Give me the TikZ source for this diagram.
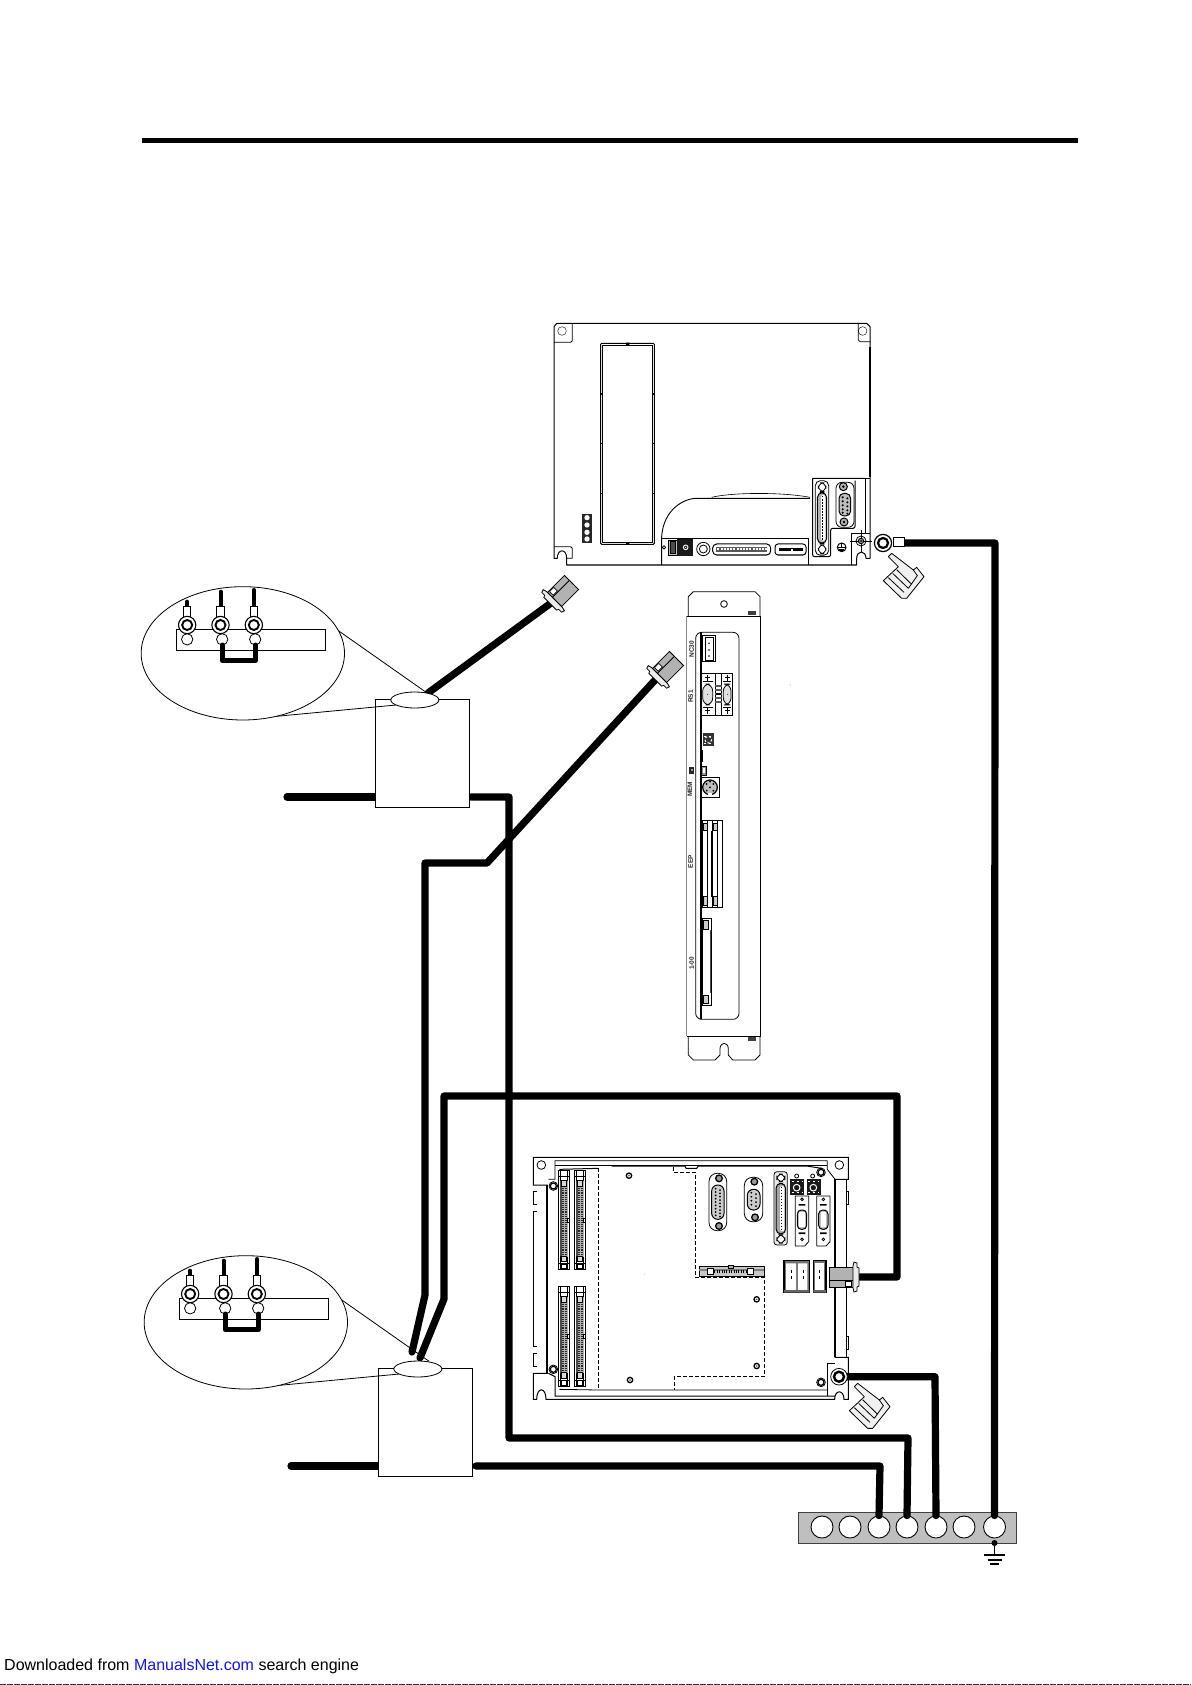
\documentclass[tikz,border=0pt]{standalone}
\usepackage{fontspec}
\setmainfont{Liberation Sans}
\usetikzlibrary{calc}
\definecolor{linkblue}{RGB}{20,20,240}
\tikzset{
  cable/.style={line width=7.2pt,line join=round,line cap=round,black},
  thin line/.style={line width=0.8pt},
  fine/.style={line width=0.6pt},
  pcb/.style={line width=0.9pt,dash pattern=on 3.5pt off 2.5pt},
  terminal/.style={circle,draw,line width=0.9pt,fill=white,minimum size=22pt,inner sep=0pt},
  tinylabel/.style={inner sep=0pt,font=\fontsize{6.5}{6.5}\selectfont\bfseries,rotate=90,text=black!85},
  zoomA/.style={shift={(540,310)},scale=0.33333},
  zoomB/.style={shift={(660,580)},scale=0.33333},
  zoomC/.style={shift={(520,1140)},scale=0.33333},
}
% pin slot: top-left x,y ; height (zoom units)
\newcommand{\mySlot}[3]{%
  \begin{scope}[shift={(#1,#2)}]
    \draw[thin line,fill=white] (0,0) rectangle (33,#3);
    \draw[fine] (7,0) -- (7,#3) (27,0) -- (27,#3);
    \fill[black!70] (5,30) rectangle (10,{#3-40});
    \fill[black!30] (10,32) rectangle (28,{#3-38});
    \draw[line width=2pt,black!85,dash pattern=on 1pt off 0.9pt] (15,34) -- (15,{#3-38});
    \draw[line width=2pt,black!85,dash pattern=on 1pt off 0.9pt] (23,34) -- (23,{#3-38});
    \draw[fine,fill=black!15] (9,30) rectangle (25,46);
    \draw[fine,fill=black!15] (9,{#3-40}) rectangle (25,{#3-24});
    \draw[fine,fill=white] (9,{#3-16}) rectangle (25,{#3-2});
    \draw[fine] (0,18) -- (33,18) (0,{#3-18}) -- (33,{#3-18});
    \draw[fine,fill=white] (28,{#3/2-6}) rectangle (33,{#3/2+6});
  \end{scope}}
% grey plug with its flange
\newcommand{\myPlug}[2]{%
  \begin{scope}[shift={(#1)},rotate=#2]
    \draw[thin line,fill=black!30] (-12,-10) rectangle (12,10);
    \draw[thin line] (-12,-3) -- (12,-3);
    \draw[fine,fill=white] (-10,-9) rectangle (-4,-4);
    \draw[thin line,fill=black!8] (-12,-11) -- (-13,-15) -- (-16,-14) -- (-16,-10) -- (-18,-9) -- (-18,9) -- (-16,10) -- (-16,14) -- (-13,15) -- (-12,11) -- cycle;
  \end{scope}}
% hand pointing at the ring terminal
\newcommand{\myHand}[1]{%
  \begin{scope}[shift={(#1)},scale=0.33333]
    \draw[thin line,fill=black!6,line join=round] (-5,5) -- (5,-5) -- (70,45) -- (80,37) -- (102,65) -- (50,130) -- (35,130) -- (-20,77) -- (25,35) -- cycle;
    \draw[thin line] (-5,68) -- (42,112) (8,55) -- (55,100) (20,44) -- (65,88) (70,45) -- (82,62) -- (55,100);
  \end{scope}}
% ring terminal with wire on a strip
\newcommand{\myRing}[2]{%
  \draw[line width=4pt,black,line cap=round] (#1,#2) -- (#1,115);
  \draw[line width=0.9pt,fill=white] ({#1-11},110) rectangle ({#1+11},142);
  \draw[line width=1.1pt,fill=white] (#1,165) circle (26);
  \draw[line width=1.9pt,fill=white] (#1,165) circle (15);
}
\newcommand{\myInset}[1]{%
  \begin{scope}[shift={(#1)},scale=0.33333]
    \draw[line width=0.9pt,fill=white] (738,388) rectangle (1020,712);
    \draw[line width=0.8pt] (628,183) -- (890,367) (430,440) -- (800,405);
    \draw[line width=0.8pt,fill=white] (340,250) ellipse (305 and 200);
    \draw[line width=0.8pt,fill=white] (856,390) ellipse (72 and 24);
    \draw[line width=0.9pt] (140,178) rectangle (588,242);
    \draw[line width=0.8pt,fill=white] (173,208) circle (17);
    \draw[line width=0.8pt,fill=white] (278,208) circle (17);
    \draw[line width=0.8pt,fill=white] (377,208) circle (17);
    \draw[line width=5pt,black,line join=round,line cap=round] (278,225) -- (278,272) -- (378,272) -- (378,225);
    \myRing{173}{95}
    \myRing{273}{65}
    \myRing{373}{60}
  \end{scope}}
\begin{document}
\begin{tikzpicture}[x=1pt,y=-1pt,line cap=butt]
\useasboundingbox (0,0) rectangle (1191,1685);
\fill[white] (0,0) rectangle (1191,1685);

% top rule
\coordinate (ruleL) at (142,140.5);
\coordinate (ruleR) at (1078,140.5);
\draw[line width=5pt] (ruleL) -- (ruleR);

% ===== upper unit =====
\begin{scope}[zoomA]
  \draw[line width=1pt,line join=round] (42,50) -- (50,40) -- (980,40) -- (990,50) -- (990,745) -- (978,745)
    .. controls (978,720) and (950,720) .. (950,745) -- (950,765) -- (80,765) -- (80,745)
    .. controls (80,715) and (52,715) .. (52,745) -- (42,745) -- cycle;
  \draw[thin line] (42,97) -- (92,97) -- (97,92) -- (97,40);
  \draw[thin line] (955,40) -- (955,90) -- (960,95) -- (990,95);
  \draw (66,63) circle (13) (968,63) circle (13);
  \draw[thin line] (42,710) -- (92,710) -- (97,715) -- (97,745) -- (80,745);
  \draw[line width=1.6pt] (990,110) -- (990,500);
  \draw[thin line] (935,670) -- (990,670) (935,670) -- (935,765);
  % display window
  \draw[line width=1pt,rounded corners=1pt] (182,100) rectangle (343,703);
  \draw[thin line] (188,106) rectangle (337,697);
  \foreach \yy in {252,400,550}{\fill (180,{\yy-2}) rectangle (190,{\yy+2}); \fill (335,{\yy-2}) rectangle (345,{\yy+2});}
  \fill (258,98) rectangle (268,106) (258,697) rectangle (268,705);
  % lamp strip
  \fill[black!85] (127,612) rectangle (155,700);
  \foreach \yy in {623,645,667,687}{\fill[white] (141,\yy) circle (8);}
  % curved cover
  \draw[line width=0.9pt] (365,765) -- (365,680) .. controls (370,600) and (430,565) .. (470,565) -- (810,565);
  \draw[fine] (515,562) .. controls (570,548) and (720,545) .. (810,562);
  \draw[thin line] (365,685) -- (805,685) -- (805,765);
  % lower strip parts
  \draw[thin line,fill=black!25] (385,690) rectangle (412,735);
  \draw[fine,fill=black!70] (392,695) rectangle (405,730);
  \fill[black!90] (412,688) rectangle (460,737);
  \draw[white,line width=0.9pt] (437,712) circle (7);
  \fill[white] (437,712) circle (2);
  \draw[thin line] (372,712) circle (5);
  \draw[thin line] (490,717) circle (20) (490,717) circle (12);
  \draw[line width=1pt,rounded corners=4pt] (518,702) rectangle (692,735);
  \fill[black!65] (528,712) rectangle (682,726);
  \draw[white,line width=2pt,dash pattern=on 2pt off 1.2pt] (532,717) -- (680,717);
  \draw[line width=1pt,rounded corners=3pt] (705,702) rectangle (798,735);
  \fill (716,715) rectangle (790,723);
  \fill[white] (753,716) rectangle (760,722);
  % connector block
  \draw[line width=1pt,rounded corners=2pt] (818,505) -- (975,505) (818,505) -- (818,740) -- (872,740) -- (872,655) -- (945,655) -- (945,512);
  \draw[thin line] (975,505) -- (975,670) (945,505) -- (990,505);
  \draw[thin line,rounded corners=5pt] (826,512) rectangle (866,736);
  \draw[thin line,rounded corners=6pt] (835,518) rectangle (858,545);
  \draw[thin line,rounded corners=6pt] (835,704) rectangle (858,732);
  \draw[line width=1pt,fill=black!30,rounded corners=5pt] (832,548) rectangle (860,700);
  \fill[white,rounded corners=2pt] (843,555) rectangle (856,692);
  \draw[line width=1.6pt,dash pattern=on 1.5pt off 1.5pt] (848,558) -- (848,690);
  \draw[thin line,rounded corners=6pt] (888,517) rectangle (942,652);
  \draw[line width=1pt,fill=black!25,rounded corners=5pt] (897,550) rectangle (932,618);
  \foreach \yy in {562,574,586,598,608}{\fill[black] (908,\yy) circle (3.5); \fill[black] (922,{\yy+3}) circle (3.5);}
  \draw[line width=1pt,fill=black!30] (910,530) circle (12) (912,636) circle (12);
  \fill (910,530) circle (4) (912,636) circle (4);
  % screws
  \draw[line width=1pt] (905,712) circle (13);
  \draw[line width=1pt] (892,712) -- (918,712) (905,700) -- (905,712);
  \fill (897,716) rectangle (913,722);
  \draw[fine] (930,693) -- (995,693) (963,660) -- (963,725);
  \draw[thin line] (963,693) circle (15);
  \draw[line width=1pt,fill=black!40] (963,693) circle (8);
  \fill (963,693) circle (3);
\end{scope}

% ===== middle unit =====
\begin{scope}[zoomB]
  \draw[thin line,line join=round] (85,108) -- (85,50) -- (100,35) -- (285,35) -- (300,50) -- (300,108);
  \draw[thin line] (192,72) circle (10);
  \fill[black!75] (265,94) rectangle (287,106);
  \draw[line width=1.6pt,black!45] (80,108) -- (80,1368);
  \draw[thin line] (80,108) -- (300,108) -- (300,1368) -- (80,1368);
  \fill[black!75] (265,1370) rectangle (287,1382);
  \draw[thin line,line join=round] (85,1368) -- (85,1425) -- (100,1440) -- (165,1440) -- (180,1425) -- (180,1405) .. controls (182,1385) and (203,1385) .. (205,1405) -- (205,1425) -- (218,1440) -- (285,1440) -- (300,1425) -- (300,1368);
  \draw[thin line,rounded corners=6pt] (107,157) rectangle (237,1318);
  \draw[thin line] (120,157) -- (120,1318) (124,157) -- (124,1318);
  % CN
  \draw[line width=1pt] (128,165) rectangle (165,245);
  \draw[thin line] (135,172) rectangle (160,240);
  \foreach \yy in {190,210,228}{\fill (147,\yy) circle (2.5);}
  % dual D
  \draw[line width=1pt] (125,280) rectangle (218,405);
  \draw[thin line] (165,280) -- (165,405) (185,280) -- (185,405);
  \draw[thin line,fill=black!12,rounded corners=7pt] (128,312) rectangle (158,375);
  \draw[thin line,fill=black!12,rounded corners=7pt] (190,312) rectangle (213,375);
  \foreach \xx/\yy in {143/293,143/392,203/293,203/392}{\draw[line width=1.2pt] ({\xx-8},\yy) -- ({\xx+8},\yy) ({\xx},{\yy-9}) -- ({\xx},{\yy+9});}
  \draw[line width=1pt] (128,304) -- (158,304) (190,304) -- (213,304) (128,382) -- (158,382) (190,382) -- (213,382);
  \foreach \yy in {318,330,342,354,366}{\draw[line width=1.4pt,black!65] (165,\yy) -- (185,\yy);}
  \fill (168,338) rectangle (182,345);
  \fill (143,343) circle (1.5) (203,343) circle (1.5);
  % rotary switch
  \fill[black!80] (128,460) rectangle (162,498);
  \draw[white,line width=1pt,dash pattern=on 2pt off 2pt] (145,479) circle (10);
  \draw[white,line width=1pt,dash pattern=on 2pt off 3pt] (132,468) -- (158,468) (132,490) -- (158,490);
  \draw[thin line] (128,510) -- (128,545);
  \draw[thin line,fill=black!45] (125,558) rectangle (138,587);
  \fill[white] (129,564) rectangle (134,580);
  \fill[black!85] (88,562) rectangle (103,582);
  \fill[black!40] (92,566) rectangle (100,574);
  \draw[line width=1pt] (123,592) rectangle (178,652);
  \draw[line width=1.2pt,fill=black!25] (150,622) circle (22);
  \foreach \p in {{140,612},{160,612},{140,632},{160,632},{150,622},{150,605}}{\fill (\p) circle (3);}
  \fill[white] (145,640) rectangle (155,648);
  \draw[thin line] (123,660) -- (123,705);
  % slots
  \foreach \xa in {127,157}{
    \draw[thin line] (\xa,722) rectangle ({\xa+29},982);
    \draw[fine,fill=black!20] ({\xa+2},730) rectangle ({\xa+16},752);
    \draw[fine,fill=black!20] ({\xa+2},950) rectangle ({\xa+16},975);
    \draw[fine] ({\xa+16},722) -- ({\xa+16},982);
  }
  \fill (153,752) rectangle (160,950);
  \draw[thin line] (127,1015) rectangle (155,1275);
  \draw[fine,fill=black!20] (129,1022) rectangle (145,1048);
  \draw[fine,fill=black!20] (129,1245) rectangle (145,1270);
  \draw[line width=1pt,black!70] (150,1050) -- (150,1240);
  \node[tinylabel] (lblA) at (95,208) {NC30};
  \node[tinylabel] (lblB) at (92,350) {RS1};
  \node[tinylabel] (lblC) at (90,628) {MEM};
  \node[tinylabel] (lblD) at (92,845) {EEP};
  \node[tinylabel] (lblE) at (95,1150) {1-00};
\end{scope}
\fill[black!60] (790,685) circle (0.5);

% ===== lower unit =====
\begin{scope}[zoomC]
  \draw[line width=1pt] (40,52) -- (985,52) -- (985,118) -- (945,118) -- (945,652) -- (985,652) -- (985,778) -- (972,778)
    .. controls (972,748) and (944,748) .. (944,778) -- (78,778) .. controls (78,740) and (50,740) .. (50,778) -- (40,778) -- (40,700) -- (82,700) -- (82,135) -- (40,135) -- cycle;
  \draw[line width=2pt] (82,135) -- (82,700);
  \draw[line width=1.6pt] (945,118) -- (945,652);
  \draw[thin line] (978,118) -- (978,652);
  \draw[thin line] (978,155) -- (985,155) -- (985,193) -- (978,193) (978,215) -- (978,590) -- (985,590) -- (985,628) -- (978,628);
  \draw[line width=1.3pt] (40,155) -- (52,155) (40,155) -- (40,193) -- (52,193) (40,215) -- (52,215) (40,215) -- (40,620) -- (52,620) (40,640) -- (52,640) (40,640) -- (40,680) -- (52,680);
  \draw[thin line] (85,118) -- (105,118) -- (105,62) -- (922,62) -- (922,88) -- (945,118);
  \draw[line width=1pt] (105,75) -- (922,75);
  \draw[line width=1pt] (118,88) -- (235,85) (275,78) -- (495,78) (495,78) -- (498,85) -- (530,85) -- (535,78) -- (860,78) -- (905,85);
  \draw[line width=1pt] (85,700) -- (105,710) -- (105,768) -- (945,768);
  \draw[thin line] (118,748) -- (235,750) -- (922,750);
  \draw[thin line] (922,750) -- (922,768);
  \draw[thin line] (64,75) circle (13) (958,75) circle (13);
  \foreach \p in {{100,138},{100,688},{903,97},{903,727}}{\draw[thin line] (\p) circle (13); \draw[line width=1.2pt] (\p) circle (9);}
  \draw[pcb] (235,85) -- (235,750);
  \draw[pcb] (460,82) -- (460,97) -- (527,97) -- (527,412) -- (733,412) -- (733,710) -- (463,710) -- (463,750);
  \foreach \p in {{327,107},{330,720},{710,478},{710,678}}{\draw[line width=1.3pt] (\p) circle (8); \fill[black!60] (\p) circle (3);}
  % pin slots
  \mySlot{115}{92}{296}
  \mySlot{163}{92}{296}
  \mySlot{115}{440}{298}
  \mySlot{163}{440}{298}
  \fill[black!60] (374,402) circle (1.2);
  % D-subs
  \draw[thin line,rounded corners=8pt] (567,100) rectangle (620,272);
  \draw[line width=1pt,fill=black!20,rounded corners=6pt] (575,135) rectangle (612,238);
  \foreach \yy in {146,156,166,176,186,196,206,216,226}{\fill (587,\yy) circle (3); \fill (600,{\yy+4}) circle (3);}
  \draw[line width=1.3pt,fill=black!40] (597,115) circle (10) (597,258) circle (10);
  \draw[thin line,rounded corners=8pt] (673,112) rectangle (728,245);
  \draw[line width=1pt,fill=black!20,rounded corners=6pt] (682,148) rectangle (720,210);
  \foreach \yy in {158,170,182,194}{\fill (694,\yy) circle (3); \fill (708,{\yy+4}) circle (3);}
  \draw[line width=1.3pt,fill=black!40] (703,125) circle (10) (705,232) circle (10);
  % half-pitch connector
  \draw[thin line,fill=black!8,rounded corners=3pt] (762,95) rectangle (802,315);
  \draw[thin line,fill=white,rounded corners=6pt] (770,102) rectangle (795,125);
  \draw[thin line,fill=white,rounded corners=6pt] (770,285) rectangle (795,310);
  \draw[line width=1pt,fill=black!35,rounded corners=5pt] (768,130) rectangle (797,282);
  \fill[white,rounded corners=2pt] (780,138) rectangle (793,274);
  \draw[line width=1.5pt,dash pattern=on 1.5pt off 1.5pt] (785,140) -- (785,272);
  % rotary
  \fill[black!90] (810,118) rectangle (852,165);
  \fill[black!90] (860,118) rectangle (903,165);
  \draw[thin line] (830,108) circle (6) (878,108) circle (6);
  \draw[white,line width=1pt] (830,143) circle (10) (880,143) circle (10);
  \draw[white,line width=1pt,dash pattern=on 2pt off 3pt] (815,125) -- (848,125) (865,125) -- (898,125) (815,158) -- (848,158) (865,158) -- (898,158);
  % mini connectors
  \foreach \xa in {826,890}{
    \draw[thin line,line join=round] (\xa,168) -- ({\xa+40},168) -- ({\xa+40},305) -- ({\xa+28},318) -- (\xa,318) -- cycle;
    \draw[line width=1pt,fill=black!25,rounded corners=4pt] ({\xa+6},210) rectangle ({\xa+34},268);
    \fill[white] ({\xa+12},216) rectangle ({\xa+28},262);
    \draw[thin line] ({\xa+20},178) circle (4) ({\xa+20},298) circle (4);
    \fill ({\xa+10},192) rectangle ({\xa+30},197) ({\xa+10},277) rectangle ({\xa+30},282);
  }
  % flat connector
  \draw[thin line,fill=black!22] (537,378) rectangle (733,410);
  \fill[black!50] (537,386) rectangle (733,392);
  \draw[fine,fill=white] (563,384) rectangle (580,402);
  \draw[fine,fill=white] (683,384) rectangle (700,402);
  \draw[fine,fill=black!30] (625,376) rectangle (640,386);
  \draw[line width=2.4pt,dash pattern=on 1pt off 1.4pt] (583,394) -- (680,394);
  % boxes
  \draw[line width=1.6pt,fill=black!55] (792,362) rectangle (868,458);
  \fill[white] (798,370) rectangle (828,450) (834,370) rectangle (862,450);
  \draw[line width=1.6pt,fill=black!55] (880,362) rectangle (918,458);
  \fill[white] (886,370) rectangle (912,450);
  \foreach \xx in {815,850,898}{\draw[line width=1.4pt,dash pattern=on 3pt off 3pt] (\xx,390) -- (\xx,425);}
  \fill[black!60] (792,450) rectangle (868,458) (880,450) rectangle (918,458);
  % corner of the ground lug
  \draw[thin line] (921,670) -- (945,670) (921,670) -- (921,750);
\end{scope}

% ===== terminal bar =====
\draw[line width=1pt,black!75,fill=black!25] (798,1512) rectangle (1016,1543);
\node[terminal] (t1) at (822,1527) {};
\node[terminal] (t2) at (850,1527) {};
\node[terminal] (t3) at (879,1527) {};
\node[terminal] (t4) at (907,1527) {};
\node[terminal] (t5) at (936,1527) {};
\node[terminal] (t6) at (964,1527) {};
\node[terminal] (t7) at (994.5,1527) {};
\coordinate (gnd) at (994.5,1543);
\coordinate (gndB) at (994.5,1555);
\fill (gnd) circle (3);
\draw[line width=1pt] (gnd) -- (gndB);
\draw[line width=1.6pt] ($(gndB)+(-10.5,0)$) -- ($(gndB)+(10.5,0)$);
\draw[line width=1.4pt] ($(gndB)+(-7,5)$) -- ($(gndB)+(7,5)$);
\draw[line width=1.4pt] ($(gndB)+(-4.5,9)$) -- ($(gndB)+(4.5,9)$);

% ===== cables =====
\coordinate (ringU) at (904,543);
\coordinate (ringL) at (845,1376.7);
\coordinate (plugA) at (551,603);
\coordinate (plugB) at (656,679);
\coordinate (plugC) at (858,1277);
\coordinate (ellA) at (428,693);
\coordinate (ellB1) at (412,1352);
\coordinate (ellB2) at (420,1358);
\coordinate (stubA) at (287,797);
\coordinate (boxAL) at (376,797);
\coordinate (boxAR) at (471,797);
\coordinate (stubB) at (291,1466);
\coordinate (boxBL) at (379,1466);
\coordinate (boxBR) at (476,1466);
\draw[cable] (ringU) -- (995,543) -- (t7.north);
\draw[cable] (ellA) -- (plugA);
\draw[cable] (stubA) -- (boxAL);
\draw[cable] (boxAR) -- (509,797) -- (509,1438) -- (908,1438) -- (t4.north);
\draw[cable] (plugB) -- (487,863) -- (425,863) -- (425,1295) -- (ellB1);
\draw[cable] (ellB2) -- (444,1299) -- (444,1096) -- (897,1096) -- (897,1277) -- (plugC);
\draw[cable] (ringL) -- (935,1376.7) -- (t5.north);
\draw[cable] (stubB) -- (boxBL);
\draw[cable] (boxBR) -- (880,1466) -- (t3.north);

% ===== plugs, rings, hands =====
\myPlug{563,591}{45}
\myPlug{668,667}{45}
\myPlug{841,1277}{180}
\draw[line width=0.9pt,fill=white] (893,537) rectangle (904,546);
\draw[line width=1.2pt,fill=white] (883,543) circle (8.6);
\draw[line width=2.2pt,fill=white] (883,543) circle (5);
\draw[thin line,fill=white] (839,1376.7) circle (8.3);
\draw[line width=2.4pt,fill=white] (839,1376.7) circle (5);
\myHand{890,555}
\myHand{856,1385}

% ===== insets =====
\myInset{129.5,570}
\myInset{132.5,1239}

% ===== footer =====
\node[inner sep=0pt,anchor=base west,font=\fontsize{16}{18}\selectfont,text=black] (footer) at (4,1670) {Downloaded from \textcolor{linkblue}{ManualsNet.com} search engine};
\coordinate (footL) at (0,1684.2);
\coordinate (footR) at (1191,1684.2);
\draw[line width=1pt,black!80,dash pattern=on 6pt off 1pt] (footL) -- (footR);
\end{tikzpicture}
\end{document}
